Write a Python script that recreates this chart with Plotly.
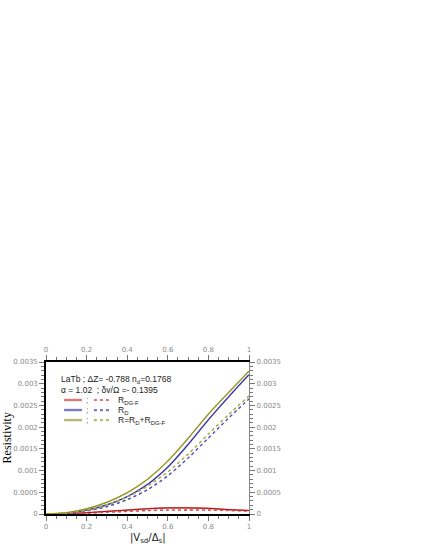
import plotly.graph_objects as go

# ---- data ----
vsd = [0, 0.1, 0.2, 0.3, 0.4, 0.5, 0.6, 0.7, 0.8, 0.9, 1.0]

r_dgf_solid = [0, 0.00001, 0.00003, 0.00006, 0.00009, 0.00012, 0.00014, 0.00014, 0.00013, 0.0001, 0.00008]
r_d_solid = [0, 0.00002, 0.00009, 0.00021, 0.0004, 0.00068, 0.00108, 0.0016, 0.00217, 0.0027, 0.00321]
r_tot_solid = [0, 0.00003, 0.00012, 0.00027, 0.00049, 0.0008, 0.00122, 0.00174, 0.0023, 0.0028, 0.00329]

r_dgf_dot = [0, 0.000005, 0.00002, 0.00004, 0.00006, 0.00008, 0.00009, 0.00009, 0.00009, 0.00008, 0.00007]
r_d_dot = [0, 0.000015, 0.00007, 0.00017, 0.00033, 0.00056, 0.00088, 0.00129, 0.00175, 0.00221, 0.00265]
r_tot_dot = [0, 0.00002, 0.00009, 0.00021, 0.00039, 0.00064, 0.00097, 0.00138, 0.00184, 0.00229, 0.00272]

x_ticks = [0, 0.2, 0.4, 0.6, 0.8, 1]
x_ticklabels = ["0", "0.2", "0.4", "0.6", "0.8", "1"]
y_ticks = [0, 0.0005, 0.001, 0.0015, 0.002, 0.0025, 0.003, 0.0035]
y_ticklabels = ["0", "0.0005", "0.001", "0.0015", "0.002", "0.0025", "0.003", "0.0035"]

legend_labels = ["R<sub>DG-F</sub>", "R<sub>D</sub>", "R=R<sub>D</sub>+R<sub>DG-F</sub>"]
header1 = "LaTb ; ΔZ= -0.788 n<sub>d</sub>=0.1768"
header2 = "α = 1.02  ; δv/Ω =- 0.1395"

dark = {"red": "#b00000", "blue": "#1c1c8c", "olive": "#8a8a00"}
light = {"red": "#d87a7a", "blue": "#7a7ac8", "olive": "#b8b86e"}
mid = {"red": "#c84040", "blue": "#3a3aa8", "olive": "#a0a030"}

fig = go.Figure()

series = [
    ("red", r_dgf_solid, r_dgf_dot),
    ("blue", r_d_solid, r_d_dot),
    ("olive", r_tot_solid, r_tot_dot),
]
for key, sol, dot in series:
    fig.add_trace(go.Scatter(x=vsd, y=dot, mode="lines", line=dict(color=light[key], width=1.6, dash="dot", shape="spline", smoothing=0.8),
                             showlegend=False, hoverinfo="skip"))
    fig.add_trace(go.Scatter(x=vsd, y=dot, mode="lines", line=dict(color=mid[key], width=0.8, dash="dot", shape="spline", smoothing=0.8),
                             showlegend=False, hoverinfo="skip"))
    fig.add_trace(go.Scatter(x=vsd, y=sol, mode="lines", line=dict(color=light[key], width=1.6, shape="spline", smoothing=0.8),
                             showlegend=False, hoverinfo="skip"))
    fig.add_trace(go.Scatter(x=vsd, y=sol, mode="lines", line=dict(color=dark[key], width=0.9, shape="spline", smoothing=0.8),
                             showlegend=False, hoverinfo="skip"))

# invisible trace to activate top / right axes
fig.add_trace(go.Scatter(x=[0, 1], y=[0, 0], xaxis="x2", yaxis="y2", mode="lines",
                         line=dict(width=0), showlegend=False, hoverinfo="skip"))

tickfont = dict(family="DejaVu Sans", size=7, color="#8a8a8a")
common_x = dict(range=[0, 1], tickvals=x_ticks, ticktext=x_ticklabels, ticks="outside", ticklen=5,
                tickcolor="#777", tickwidth=1, tickfont=tickfont, showgrid=False, zeroline=False,
                minor=dict(dtick=0.05, ticklen=3, tickcolor="#777", ticks="outside", showgrid=False),
                showline=True, linecolor="black", linewidth=1.6, automargin=False)
common_y = dict(range=[0, 0.0035], tickvals=y_ticks, ticktext=y_ticklabels, ticks="outside", ticklen=5,
                tickcolor="#777", tickwidth=1, tickfont=tickfont, showgrid=False, zeroline=False,
                minor=dict(dtick=0.0001, ticklen=3, tickcolor="#777", ticks="outside", showgrid=False),
                showline=True, linewidth=1.6, automargin=False)

fig.update_layout(
    width=425, height=550,
    margin=dict(l=46, r=176, t=362, b=36, autoexpand=False),
    paper_bgcolor="white", plot_bgcolor="white",
    showlegend=False,
    xaxis=dict(**common_x, side="bottom"),
    xaxis2=dict(**common_x, side="top", overlaying="x", anchor="y"),
    yaxis=dict(**common_y, side="left", linecolor="black"),
    yaxis2=dict(**common_y, side="right", overlaying="y", anchor="x", linecolor="#888"),
)
fig.update_layout(yaxis2_linewidth=1.2)

ann = []
ann.append(dict(text="Resistivity", xref="paper", yref="paper", x=-0.19, y=0.5, showarrow=False,
                textangle=-90, font=dict(family="Liberation Serif", size=12, color="black"),
                xanchor="center", yanchor="middle"))
ann.append(dict(text="|V<sub>sd</sub>/Δ<sub>s</sub>|", xref="paper", yref="paper", x=0.5, y=-0.158,
                showarrow=False, font=dict(family="DejaVu Sans", size=10, color="#222"),
                xanchor="center", yanchor="middle"))
lfont = dict(family="Liberation Sans", size=8.5, color="#222")
ann.append(dict(text=header1, xref="paper", yref="paper", x=0.064, y=0.882, showarrow=False,
                font=lfont, xanchor="left", yanchor="middle"))
ann.append(dict(text=header2, xref="paper", yref="paper", x=0.064, y=0.816, showarrow=False,
                font=lfont, xanchor="left", yanchor="middle"))

shapes = []
row_y = [0.75, 0.684, 0.618]
for (key, _, _), ry, lab in zip(series, row_y, legend_labels):
    shapes.append(dict(type="line", xref="paper", yref="paper", x0=0.089, x1=0.177, y0=ry, y1=ry,
                       line=dict(color=light[key], width=2.4)))
    shapes.append(dict(type="line", xref="paper", yref="paper", x0=0.236, x1=0.325, y0=ry, y1=ry,
                       line=dict(color=light[key], width=2.2, dash="dot")))
    ann.append(dict(text=";", xref="paper", yref="paper", x=0.204, y=ry, showarrow=False,
                    font=dict(family="DejaVu Sans", size=8, color="#888"), xanchor="center", yanchor="middle"))
    ann.append(dict(text=lab, xref="paper", yref="paper", x=0.343, y=ry, showarrow=False,
                    font=lfont, xanchor="left", yanchor="middle"))

fig.update_layout(annotations=ann, shapes=shapes)
fig.write_html("out.html", config={"displayModeBar": False},
               post_script="document.body.style.margin='0';")
